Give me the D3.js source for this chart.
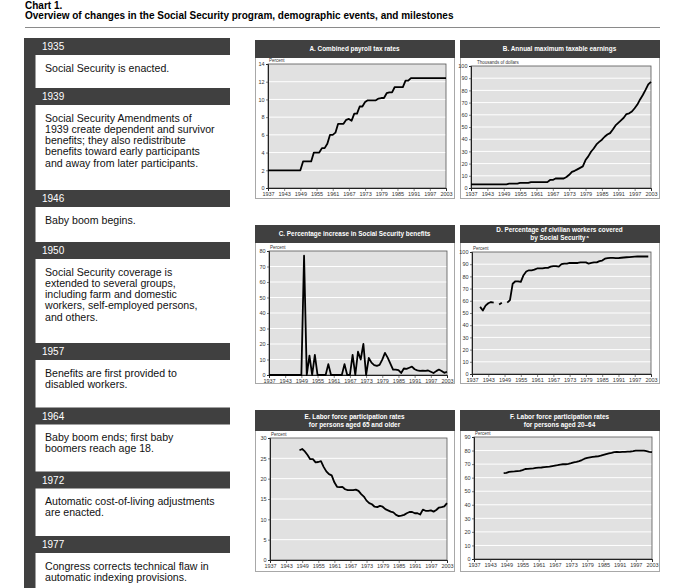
<!DOCTYPE html>
<html><head><meta charset="utf-8">
<script src="https://cdn.jsdelivr.net/npm/d3@7"></script>
<style>body{margin:0;background:#fff}svg{display:block;font-family:"Liberation Sans",Arial,sans-serif}</style>
</head><body><svg id="c" width="699" height="588"></svg>
<script>
// ---------- DATA ----------
const years = d3.range(1937, 2004);
const xTickYears = [1937,1943,1949,1955,1961,1967,1973,1979,1985,1991,1997,2003];

const eventYears = ["1935","1939","1946","1950","1957","1964","1972","1977"];
const eventTexts = [
  ["Social Security is enacted."],
  ["Social Security Amendments of","1939 create dependent and survivor","benefits; they also redistribute","benefits toward early participants","and away from later participants."],
  ["Baby boom begins."],
  ["Social Security coverage is","extended to several groups,","including farm and domestic","workers, self-employed persons,","and others."],
  ["Benefits are first provided to","disabled workers."],
  ["Baby boom ends; first baby","boomers reach age 18."],
  ["Automatic cost-of-living adjustments","are enacted."],
  ["Congress corrects technical flaw in","automatic indexing provisions."]
];

// A. Combined payroll tax rates (percent), 1937-2003
const payrollTax = [2,2,2,2,2,2,2,2,2,2,2,2,2, 3,3,3,3,4,4,4,4.5,4.5,5,6,6,6.25,7.25,7.25,7.25,7.7,7.8,7.6,8.4,8.4,9.2,9.2,9.7,9.9,9.9,9.9,9.9,10.1,10.16,10.16,10.7,10.8,10.8,11.4,11.4,11.4,11.4,12.12,12.12,12.4,12.4,12.4,12.4,12.4,12.4,12.4,12.4,12.4,12.4,12.4,12.4,12.4,12.4];
// B. Annual maximum taxable earnings (thousands of dollars), 1937-2003
const maxEarnings = [3,3,3,3,3,3,3,3,3,3,3,3,3,3, 3.6,3.6,3.6,3.6,4.2,4.2,4.2,4.2,4.8,4.8,4.8,4.8,4.8,4.8,4.8,6.6,6.6,7.8,7.8,7.8,7.8,9.0,10.8,13.2,14.1,15.3,16.5,17.7,22.9,25.9,29.7,32.4,35.7,37.8,39.6,42.0,43.8,45.0,48.0,51.3,53.4,55.5,57.6,60.6,61.2,62.7,65.4,68.4,72.6,76.2,80.4,84.9,87.0];
// C. Percentage increase in Social Security benefits, 1937-2003
const benefitIncrease = [0,0,0,0,0,0,0,0,0,0,0,0,0, 77,0,12.5,0,13,0,0,0,0,7,0,0,0,0,0,7,0,0,13,0,15,10,20,0,11,8,6.4,5.9,6.5,9.9,14.3,11.2,7.4,3.5,3.5,3.1,1.3,4.2,4.0,4.7,5.4,3.7,3.0,2.6,2.8,2.6,2.9,2.1,1.3,2.5,3.5,2.6,1.4,2.1];
// D. Percentage of civilian workers covered by Social Security, 1937-2003 (null = no data)
const coverage = [null,null,null,55,52,56,58,59,58.5,null,57,58.5,null,58.5,60.5,74,76,76,75.5,81,84,85,85,85.5,86.5,86.5,86.5,87,87,88,88.5,88.5,88,90,90.5,90.5,91,91,91,91,91.5,91.5,91.5,90.5,91,91.5,91.5,92.5,93,94.5,95,95.2,95.2,95,95,95.3,95.5,95.7,95.8,96,96.2,96.3,96.3,96.3,96.3,96.3,null];
// E. Labor force participation rate, aged 65+, 1937-2003
const lfpr65 = [null,null,null,null,null,null,null,null,null,null,null, 27.0,27.3,26.7,25.8,24.8,24.8,24.0,24.1,24.3,22.9,21.8,21.1,20.8,19.1,18.0,17.9,18.0,17.4,17.2,17.2,17.2,17.3,17.0,16.2,15.6,14.6,14.0,13.7,13.1,13.0,13.3,13.1,12.5,12.2,11.9,11.7,11.1,10.8,10.9,11.1,11.5,11.8,11.8,11.5,11.5,11.2,12.4,12.1,12.1,12.2,11.9,12.3,12.9,13.0,13.2,14.0];
// F. Labor force participation rate, aged 20-64, 1937-2003
const lfpr2064 = [null,null,null,null,null,null,null,null,null,null,null, 63.3,63.5,64.2,64.5,64.6,64.8,65.0,65.6,66.4,66.5,66.7,66.9,67.2,67.4,67.5,67.7,67.9,68.1,68.5,68.9,69.2,69.6,69.9,69.9,70.2,70.7,71.3,71.6,72.2,73.0,74.0,74.6,75.0,75.3,75.6,75.7,76.2,76.8,77.4,77.9,78.3,78.8,79.0,78.8,79.0,79.0,79.2,79.3,79.6,80.0,80.0,80.0,79.9,79.6,79.1,78.8];

const panelTitles = [
  ["A. Combined payroll tax rates"],
  ["B. Annual maximum taxable earnings"],
  ["C. Percentage increase in Social Security benefits"],
  ["D. Percentage of civilian workers covered","by Social Security"],
  ["E. Labor force participation rates","for persons aged 65 and older"],
  ["F. Labor force participation rates","for persons aged 20\u201364"]
];
const panelUnits = ["Percent","Thousands of dollars","Percent","Percent","Percent","Percent"];
const panelYMax = [14,100,80,100,30,90];
const panelYStep = [2,10,10,10,5,10];
const panelSeries = [payrollTax,maxEarnings,benefitIncrease,coverage,lfpr65,lfpr2064];

// ---------- LAYOUT ----------
const DARK = "#404040";
const layout = [
  {fx:255,fy:40,fw:199,fh:158,hh:18,px0:268,px1:446,py0:64,py1:188,unitDx:0},
  {fx:460,fy:40,fw:199,fh:158,hh:18,px0:471,px1:651,py0:66,py1:188,unitDx:5},
  {fx:255,fy:225,fw:199,fh:158,hh:18,px0:269,px1:447,py0:251,py1:375,unitDx:0},
  {fx:460,fy:225,fw:199,fh:158,hh:18,px0:472,px1:651,py0:252,py1:374,unitDx:0},
  {fx:255,fy:410,fw:199,fh:161,hh:21,px0:270,px1:447,py0:438,py1:560,unitDx:0},
  {fx:460,fy:410,fw:199,fh:161,hh:21,px0:474,px1:652,py0:437,py1:559,unitDx:0}
];
const bandTops = [38,88,190,242,343,407.5,471.5,536];

const svg = d3.select("#c");

// Title
svg.append("text").attr("x",25).attr("y",9).attr("font-size",10).attr("font-weight","bold").text("Chart 1.");
svg.append("text").attr("x",25).attr("y",19).attr("font-size",10).attr("font-weight","bold")
  .text("Overview of changes in the Social Security program, demographic events, and milestones");
svg.append("line").attr("x1",25).attr("x2",660).attr("y1",27.5).attr("y2",27.5).attr("stroke","#8a8a8a").attr("stroke-width",1);

// Timeline
const tl = svg.append("g");
tl.append("rect").attr("x",24).attr("y",38).attr("width",11.5).attr("height",560).attr("fill",DARK);
eventYears.forEach((yr,i)=>{
  const t = bandTops[i];
  tl.append("rect").attr("x",24).attr("y",t).attr("width",206).attr("height",17).attr("fill",DARK);
  tl.append("text").attr("x",42).attr("y",t+12).attr("font-size",10).attr("fill","#fff").text(yr);
  eventTexts[i].forEach((ln,j)=>{
    tl.append("text").attr("x",45).attr("y",t+33.5+j*11.3).attr("font-size",10.6).attr("fill","#111").text(ln);
  });
});

// Panels
panelSeries.forEach((vals,i)=>{
  const L = layout[i];
  const g = svg.append("g");
  g.append("rect").attr("x",L.fx+0.5).attr("y",L.fy+0.5).attr("width",L.fw).attr("height",L.fh)
    .attr("fill","#fff").attr("stroke","#a8a8a8").attr("stroke-width",1);
  g.append("rect").attr("x",L.fx).attr("y",L.fy).attr("width",L.fw+1).attr("height",L.hh).attr("fill",DARK);
  const tl = panelTitles[i];
  const cx = L.fx + L.fw/2, cy = L.fy + L.hh/2;
  tl.forEach((s,j)=>{
    const yy = tl.length===1 ? cy+2.3 : cy - 1.7 + j*8;
    const t = g.append("text").attr("x",cx).attr("y",yy).attr("text-anchor","middle")
      .attr("font-size",6.4).attr("font-weight","bold").attr("fill","#fff").text(s);
    if(i===3 && j===1){ t.append("tspan").attr("font-size",4).attr("dy",-2).text(" a"); }
  });

  const x = d3.scaleLinear().domain([1937,2003]).range([L.px0,L.px1]);
  const y = d3.scaleLinear().domain([0,panelYMax[i]]).range([L.py1,L.py0]);
  const yTicks = d3.range(0,panelYMax[i]+0.001,panelYStep[i]);

  g.append("rect").attr("x",L.px0).attr("y",L.py0).attr("width",L.px1-L.px0).attr("height",L.py1-L.py0).attr("fill","#e1e1e1");
  g.selectAll(".grid").data(yTicks.slice(1,-1)).join("line")
    .attr("x1",L.px0).attr("x2",L.px1).attr("y1",d=>y(d)).attr("y2",d=>y(d))
    .attr("stroke","#fff").attr("stroke-width",1);
  g.append("rect").attr("x",L.px0).attr("y",L.py0).attr("width",L.px1-L.px0).attr("height",L.py1-L.py0)
    .attr("fill","none").attr("stroke","#555").attr("stroke-width",0.8);

  const xa = g.append("g").attr("transform",`translate(0,${L.py1})`)
    .call(d3.axisBottom(x).tickValues(xTickYears).tickFormat(d3.format("d")).tickSize(3).tickPadding(1));
  xa.select(".domain").attr("stroke","#222");
  xa.selectAll("text").attr("font-size",5.5).attr("fill","#333").attr("font-family","Liberation Sans, Arial");
  xa.selectAll(".tick line").attr("stroke","#333").attr("stroke-width",0.6);

  const ya = g.append("g").attr("transform",`translate(${L.px0},0)`)
    .call(d3.axisLeft(y).tickValues(yTicks).tickFormat(d3.format("d")).tickSize(2).tickPadding(1.5));
  ya.select(".domain").attr("stroke","#222");
  ya.selectAll("text").attr("font-size",5.5).attr("fill","#333").attr("font-family","Liberation Sans, Arial");
  ya.selectAll(".tick line").attr("stroke","#333").attr("stroke-width",0.6);

  g.append("text").attr("x",L.px0+1+L.unitDx).attr("y",L.py0-2.5).attr("font-size",4.5).attr("fill","#333").text(panelUnits[i]);

  const line = d3.line().defined(d=>d[1]!=null).x(d=>x(d[0])).y(d=>y(d[1]));
  g.append("path").datum(years.map((yr,k)=>[yr,vals[k]]))
    .attr("d",line).attr("fill","none").attr("stroke","#000").attr("stroke-width",1.8)
    .attr("stroke-linejoin","round");
});
</script></body></html>
